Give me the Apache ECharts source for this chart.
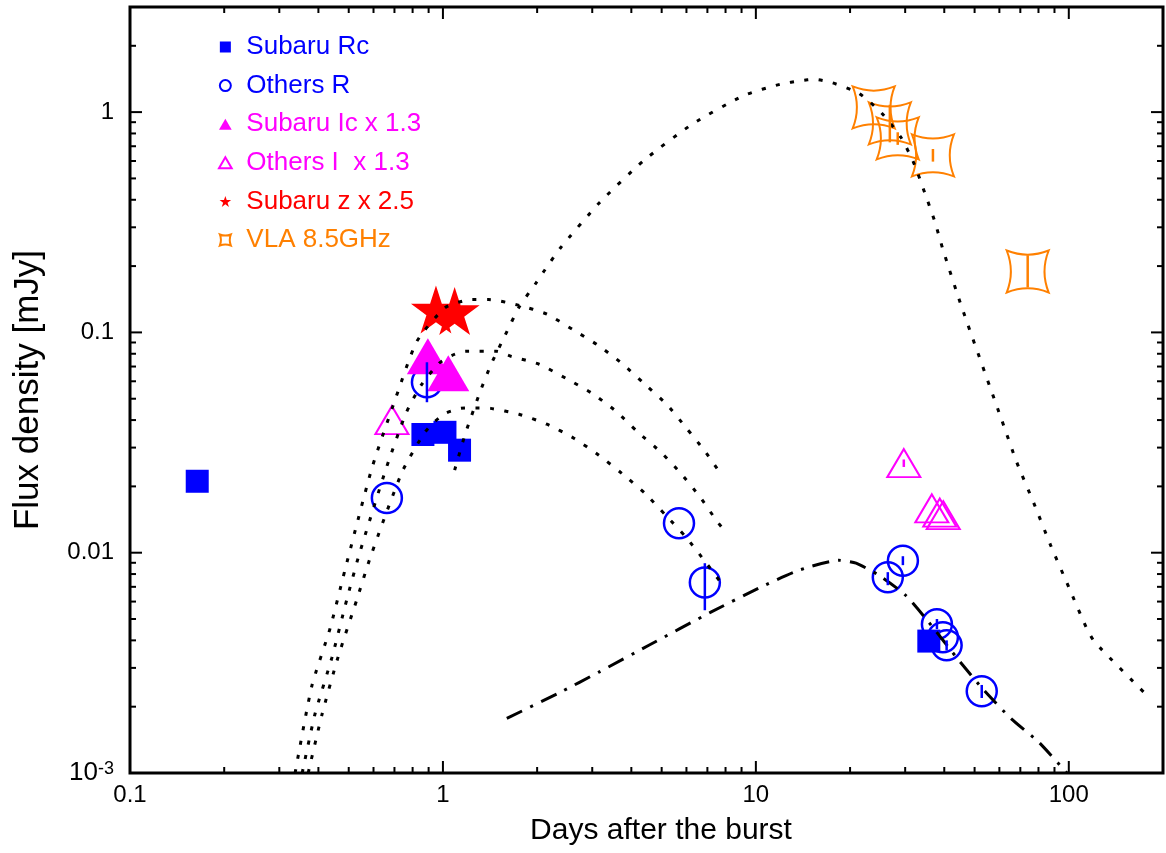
<!DOCTYPE html>
<html>
<head>
<meta charset="utf-8">
<script src="https://cdn.jsdelivr.net/npm/echarts@6/dist/echarts.min.js"></script>
<style>
html, body { margin: 0; padding: 0; background: #fff; }
#main { width: 1166px; height: 853px; }
</style>
</head>
<body>
<div id="main"></div>
<script>
var chart = echarts.init(document.getElementById('main'));
var FONT = 'Liberation Sans, Arial, Helvetica, sans-serif';

// measured points, [days, mJy]
var subaruRc = [[0.164, 0.0211], [0.863, 0.0344], [1.015, 0.0352], [1.13, 0.0292], [35.7, 0.00397]];
var othersR = [[0.662, 0.0177], [0.889, 0.0594], [5.68, 0.0136], [6.87, 0.00733], [26.4, 0.00774],
  [29.5, 0.00919], [37.9, 0.00474], [39.6, 0.00413], [40.7, 0.00380], [52.7, 0.00235]];
var subaruIc = [[0.895, 0.078], [1.04, 0.0652]];
var othersI = [[0.687, 0.040], [29.7, 0.0255], [36.5, 0.0159], [38.7, 0.0152], [39.7, 0.0148]];
var subaruZ = [[0.95, 0.127], [1.09, 0.125]];
var vla = [[23.8, 1.05], [26.8, 0.889], [28.4, 0.76], [36.8, 0.636], [73.9, 0.189]];

// error bars, [days, low, high]
var othersRErr = [[0.889, 0.0482, 0.0732], [6.87, 0.00548, 0.00896], [26.4, 0.00712, 0.00816],
  [29.5, 0.00878, 0.00964], [37.9, 0.0045, 0.0050], [40.7, 0.0036, 0.0040], [52.7, 0.00219, 0.00251]];
var othersIErr = [[29.7, 0.0245, 0.0265]];
var vlaErr = [[26.8, 0.729, 1.08], [28.4, 0.71, 0.81], [36.8, 0.596, 0.68], [73.9, 0.160, 0.224]];

// model curves
var modelRadio = [[1.09, 0.0237], [1.18, 0.0348], [1.32, 0.0546], [1.43, 0.0724], [1.58, 0.097], [1.75, 0.130],
  [1.98, 0.167], [2.10, 0.189], [2.38, 0.243], [3.17, 0.389], [4.39, 0.604], [6.25, 0.880], [9.16, 1.19],
  [12.0, 1.34], [14.0, 1.39], [15.3, 1.41], [17.5, 1.36], [21.3, 1.22], [25.3, 0.986], [29.1, 0.767],
  [32.0, 0.585], [34.7, 0.428], [37.3, 0.319], [39.6, 0.238], [45.5, 0.130], [61.1, 0.0399], [68.2, 0.0257],
  [77.3, 0.0168], [87.5, 0.0108], [100, 0.00697], [114, 0.00454], [121, 0.00393], [180, 0.00221]];
var modelOpt1 = [[0.337, 0.001], [0.381, 0.00248], [0.436, 0.00454], [0.486, 0.00832], [0.593, 0.0242],
  [0.708, 0.0508], [0.826, 0.0912], [1.02, 0.130], [1.24, 0.141], [1.40, 0.141], [1.74, 0.133], [2.15, 0.121],
  [2.60, 0.103], [3.13, 0.0874], [3.73, 0.0724], [4.42, 0.0581], [5.19, 0.0471], [5.97, 0.0371],
  [6.87, 0.0289], [7.79, 0.0224]];
var modelOpt2 = [[0.355, 0.001], [0.390, 0.00185], [0.442, 0.00335], [0.493, 0.00614], [0.539, 0.00973],
  [0.657, 0.0239], [0.762, 0.0430], [0.851, 0.0575], [0.971, 0.0724], [1.07, 0.0787], [1.18, 0.0821],
  [1.48, 0.0821], [1.65, 0.0779], [2.03, 0.0717], [2.47, 0.0619], [2.99, 0.0530], [3.57, 0.0439],
  [4.20, 0.0352], [4.97, 0.0286], [5.76, 0.0229], [6.63, 0.0179], [7.51, 0.0139], [8.02, 0.0124]];
var modelOpt3 = [[0.371, 0.001], [0.411, 0.00185], [0.462, 0.00335], [0.531, 0.00614], [0.589, 0.00973],
  [0.740, 0.0232], [0.870, 0.0348], [0.936, 0.0391], [1.02, 0.0430], [1.14, 0.0452], [1.27, 0.0454],
  [1.42, 0.0452], [1.75, 0.0425], [2.15, 0.0383], [2.62, 0.0331], [3.15, 0.0277], [3.73, 0.0229],
  [4.42, 0.0186], [5.15, 0.0148], [5.97, 0.0118], [6.87, 0.00915], [7.85, 0.00711]];
var modelDashDot = [[1.60, 0.00177], [2.35, 0.00231], [3.15, 0.00287], [4.55, 0.00380], [7.18, 0.00537],
  [10.2, 0.00690], [13.7, 0.00832], [18.4, 0.00924], [20.9, 0.00896], [24.7, 0.00790], [30.1, 0.00641],
  [35.7, 0.00483], [44.5, 0.00325], [53.5, 0.00238], [65.3, 0.00177], [80.2, 0.00138], [98.6, 0.001]];

// tick values
var xMajor = [0.1, 1, 10, 100];
var xMinor = [0.2, 0.3, 0.4, 0.5, 0.6, 0.7, 0.8, 0.9, 2, 3, 4, 5, 6, 7, 8, 9, 20, 30, 40, 50, 60, 70, 80, 90];
var yMajor = [0.001, 0.01, 0.1, 1];
var yMinor = [0.002, 0.003, 0.004, 0.005, 0.006, 0.007, 0.008, 0.009, 0.02, 0.03, 0.04, 0.05, 0.06, 0.07,
  0.08, 0.09, 0.2, 0.3, 0.4, 0.5, 0.6, 0.7, 0.8, 0.9, 2];

// path symbols so the legend icons keep their aspect
var squarePath = 'path://M0,0L100,0L100,100L0,100Z';
var trianglePath = 'path://M50,0L100,86.6L0,86.6Z';
var starPath = 'path://M50,0L61.2,34.5L97.6,34.5L68.2,55.9L79.4,90.5L50,69.1L20.6,90.5L31.8,55.9L2.4,34.5L38.8,34.5Z';
var cushionPath = 'path://M0,0Q50,20 100,0Q80,50 100,100Q50,80 0,100Q20,50 0,0Z';

function tickSeries(axis, values, len) {
  return {
    type: 'custom',
    silent: true,
    z: 10,
    data: values.map(function (v) { return axis === 'x' ? [v, 1] : [1, v]; }),
    renderItem: function (params, api) {
      var cs = params.coordSys;
      var p = api.coord([api.value(0), api.value(1)]);
      var st = { stroke: '#000', lineWidth: 2 };
      if (axis === 'x') {
        return { type: 'group', children: [
          { type: 'line', shape: { x1: p[0], y1: cs.y + cs.height, x2: p[0], y2: cs.y + cs.height - len }, style: st },
          { type: 'line', shape: { x1: p[0], y1: cs.y, x2: p[0], y2: cs.y + len }, style: st }
        ] };
      }
      return { type: 'group', children: [
        { type: 'line', shape: { x1: cs.x, y1: p[1], x2: cs.x + len, y2: p[1] }, style: st },
        { type: 'line', shape: { x1: cs.x + cs.width, y1: p[1], x2: cs.x + cs.width - len, y2: p[1] }, style: st }
      ] };
    }
  };
}

function errSeries(data, color) {
  return {
    type: 'custom',
    silent: true,
    z: 6,
    data: data,
    encode: { x: 0, y: [1, 2] },
    renderItem: function (params, api) {
      var a = api.coord([api.value(0), api.value(1)]);
      var b = api.coord([api.value(0), api.value(2)]);
      return { type: 'line', shape: { x1: a[0], y1: a[1], x2: b[0], y2: b[1] }, style: { stroke: color, lineWidth: 2.5 } };
    }
  };
}

function modelSeries(data, dash) {
  return {
    type: 'line',
    data: data,
    symbol: 'none',
    smooth: 0.2,
    silent: true,
    z: 5,
    lineStyle: { color: '#000', width: 3, type: dash }
  };
}

var option = {
  animation: false,
  textStyle: { fontFamily: FONT },
  grid: {
    left: 130, right: 3, top: 7, bottom: 80,
    show: true, borderColor: '#000', borderWidth: 3
  },
  legend: {
    orient: 'vertical',
    left: 213,
    top: 29,
    itemGap: 12.6,
    itemWidth: 32,
    itemHeight: 11,
    symbolKeepAspect: true,
    textStyle: { fontSize: 26, fontFamily: FONT },
    data: [
      { name: 'Subaru Rc', textStyle: { color: '#0000ff' } },
      { name: 'Others R', textStyle: { color: '#0000ff' } },
      { name: 'Subaru Ic x 1.3', textStyle: { color: '#ff00ff' } },
      { name: 'Others I  x 1.3', textStyle: { color: '#ff00ff' } },
      { name: 'Subaru z x 2.5', textStyle: { color: '#ff0000' } },
      { name: 'VLA 8.5GHz', textStyle: { color: '#ff8000' } }
    ]
  },
  xAxis: {
    type: 'log',
    logBase: 10,
    min: 0.1,
    max: 200,
    axisLine: { show: false },
    axisTick: { show: false },
    splitLine: { show: false },
    axisLabel: {
      fontSize: 24, color: '#000', margin: 10, showMaxLabel: false,
      formatter: function (v) { return String(parseFloat(v.toPrecision(6))); }
    },
    name: 'Days after the burst',
    nameLocation: 'middle',
    nameGap: 43,
    nameTextStyle: { fontSize: 30, color: '#000', padding: [0, 0, 0, 29] }
  },
  yAxis: {
    type: 'log',
    logBase: 10,
    min: 0.001,
    max: 3,
    axisLine: { show: false },
    axisTick: { show: false },
    splitLine: { show: false },
    axisLabel: {
      fontSize: 24, color: '#000', margin: 16, showMaxLabel: false,
      formatter: function (v) {
        if (Math.abs(Math.log10(v) + 3) < 0.01) return '{b|10}{s|-3}';
        return String(parseFloat(v.toPrecision(6)));
      },
      rich: {
        b: { fontSize: 26, color: '#000' },
        s: { fontSize: 18, color: '#000', verticalAlign: 'top' }
      }
    },
    name: 'Flux density [mJy]',
    nameLocation: 'middle',
    nameGap: 84,
    nameRotate: 90,
    nameTextStyle: { fontSize: 35, color: '#000' }
  },
  series: [
    {
      name: 'Subaru Rc', type: 'scatter', data: subaruRc, symbol: squarePath, symbolSize: 23, z: 3,
      itemStyle: { color: '#0000ff', opacity: 1 }
    },
    {
      name: 'Others R', type: 'scatter', data: othersR, symbol: 'circle', symbolSize: 30, z: 3,
      itemStyle: { color: 'rgba(0,0,0,0)', borderColor: '#0000ff', borderWidth: 2.5, opacity: 1 }
    },
    {
      name: 'Subaru Ic x 1.3', type: 'scatter', data: subaruIc, symbol: trianglePath, symbolSize: [42, 36], z: 3,
      itemStyle: { color: '#ff00ff', opacity: 1 }
    },
    {
      name: 'Others I  x 1.3', type: 'scatter', data: othersI, symbol: trianglePath, symbolSize: [33, 28], z: 3,
      itemStyle: { color: 'rgba(0,0,0,0)', borderColor: '#ff00ff', borderWidth: 2, opacity: 1 }
    },
    {
      name: 'Subaru z x 2.5', type: 'scatter', data: subaruZ, symbol: starPath, symbolSize: [50, 48], z: 3,
      itemStyle: { color: '#ff0000', opacity: 1 }
    },
    {
      name: 'VLA 8.5GHz', type: 'scatter', data: vla, symbol: cushionPath, symbolSize: 42, z: 3,
      itemStyle: { color: 'rgba(0,0,0,0)', borderColor: '#ff8000', borderWidth: 2, opacity: 1 }
    },
    errSeries(othersRErr, '#0000ff'),
    errSeries(othersIErr, '#ff00ff'),
    errSeries(vlaErr, '#ff8000'),
    modelSeries(modelRadio, [4, 10.5]),
    modelSeries(modelOpt1, [4, 10.5]),
    modelSeries(modelOpt2, [4, 10.5]),
    modelSeries(modelOpt3, [4, 10.5]),
    modelSeries(modelDashDot, [17, 9, 3, 9]),
    tickSeries('x', xMajor, 12),
    tickSeries('x', xMinor, 6),
    tickSeries('y', yMajor, 12),
    tickSeries('y', yMinor, 6)
  ]
};

chart.setOption(option);
</script>
</body>
</html>
